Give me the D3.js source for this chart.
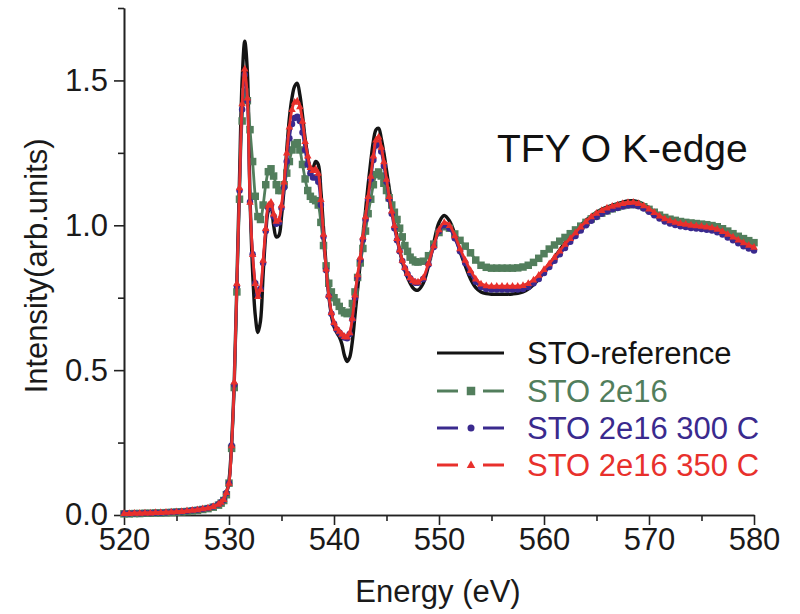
<!DOCTYPE html>
<html lang="en">
<head>
<meta charset="utf-8">
<title>TFY O K-edge</title>
<script src="https://cdn.jsdelivr.net/npm/d3@7/dist/d3.min.js"></script>
<style>
  body { margin: 0; background: #fff; }
  text { font-family: "Liberation Sans", Arial, Helvetica, sans-serif; }
</style>
</head>
<body>
<script>

//**********************************************************************//
// Data: photon energy (eV) and normalised TFY intensity

var energy = [
  520, 520.5, 521, 521.5, 522, 522.5, 523, 523.5,
  524, 524.5, 525, 525.5, 526, 526.5, 527, 527.5,
  528, 528.5, 529,
  529.25, 529.5, 529.75, 530,
  530.25, 530.5, 530.75, 531,
  531.25, 531.5, 531.75, 532,
  532.25, 532.5, 532.75, 533,
  533.25, 533.5, 533.75, 534,
  534.25, 534.5, 534.75, 535,
  535.25, 535.5, 535.75, 536,
  536.25, 536.5, 536.75, 537,
  537.25, 537.5, 537.75, 538,
  538.25, 538.5, 538.75, 539,
  539.25, 539.5, 539.75, 540,
  540.25, 540.5, 540.75, 541,
  541.25, 541.5, 541.75, 542,
  542.25, 542.5, 542.75, 543,
  543.25, 543.5, 543.75, 544,
  544.25, 544.5, 544.75, 545,
  545.25, 545.5, 545.75, 546,
  546.25, 546.5, 546.75, 547,
  547.25, 547.5, 547.75, 548,
  548.5, 549, 549.5, 550, 550.5, 551, 551.5, 552,
  552.5, 553, 553.5, 554, 554.5, 555, 555.5, 556,
  556.5, 557, 557.5, 558, 558.5, 559, 559.5, 560,
  560.5, 561, 561.5, 562, 562.5, 563, 563.5, 564,
  564.5, 565, 565.5, 566, 566.5, 567, 567.5, 568,
  568.5, 569, 569.5, 570, 570.5, 571, 571.5, 572,
  572.5, 573, 573.5, 574, 574.5, 575, 575.5, 576,
  576.5, 577, 577.5, 578, 578.5, 579, 579.5, 580
];

var stoReference = [
  0.005, 0.005, 0.006, 0.006, 0.007, 0.007, 0.008, 0.008,
  0.009, 0.010, 0.011, 0.012, 0.013, 0.015, 0.017, 0.020,
  0.023, 0.028, 0.036,
  0.043, 0.052, 0.075, 0.12,
  0.25, 0.46, 0.80, 1.16,
  1.50, 1.635, 1.53, 1.10,
  0.84, 0.69, 0.63, 0.67,
  0.83, 0.97, 1.05, 1.06,
  1.00, 0.96, 0.965, 1.03,
  1.13, 1.26, 1.37, 1.44,
  1.48, 1.49, 1.45, 1.38,
  1.30, 1.24, 1.20, 1.20,
  1.22, 1.21, 1.12, 0.99,
  0.86, 0.76, 0.69, 0.65,
  0.63, 0.615, 0.59, 0.55,
  0.53, 0.545, 0.60, 0.69,
  0.78, 0.87, 0.96, 1.05,
  1.14, 1.22, 1.29, 1.33,
  1.335, 1.30, 1.25, 1.19,
  1.13, 1.07, 1.01, 0.96,
  0.915, 0.875, 0.845, 0.82,
  0.80, 0.785, 0.777, 0.776,
  0.80, 0.86, 0.94, 1.01, 1.034, 1.015, 0.97, 0.91,
  0.86, 0.815, 0.785, 0.77, 0.764, 0.762, 0.762, 0.762,
  0.762, 0.763, 0.765, 0.77, 0.78, 0.795, 0.815, 0.84,
  0.865, 0.89, 0.915, 0.94, 0.96, 0.98, 1.0, 1.018,
  1.032, 1.045, 1.055, 1.063, 1.069, 1.075, 1.08, 1.084,
  1.085, 1.081, 1.072, 1.06, 1.047, 1.035, 1.024, 1.016,
  1.01, 1.006, 1.003, 1.0, 0.998, 0.996, 0.994, 0.99,
  0.984, 0.975, 0.965, 0.955, 0.945, 0.936, 0.928, 0.92
];

var sto2e16 = [
  0.004, 0.004, 0.005, 0.005, 0.006, 0.006, 0.007, 0.007,
  0.008, 0.009, 0.010, 0.011, 0.012, 0.014, 0.016, 0.019,
  0.022, 0.027, 0.034,
  0.041, 0.050, 0.070, 0.11,
  0.23, 0.44, 0.77, 1.09,
  1.36, 1.46, 1.43, 1.33,
  1.22, 1.10, 1.03, 1.02,
  1.07, 1.14, 1.185, 1.195,
  1.17, 1.14, 1.12, 1.12,
  1.14, 1.18, 1.22, 1.26,
  1.28, 1.285, 1.26, 1.21,
  1.16, 1.12, 1.10, 1.09,
  1.085, 1.07, 1.01, 0.93,
  0.86, 0.80, 0.77, 0.75,
  0.735, 0.72, 0.705, 0.698,
  0.695, 0.70, 0.73, 0.77,
  0.82, 0.87, 0.92, 0.98,
  1.04, 1.09, 1.14, 1.175,
  1.184, 1.17, 1.145, 1.12,
  1.095, 1.07, 1.045, 1.02,
  0.99, 0.96, 0.93, 0.91,
  0.89, 0.88, 0.874, 0.873,
  0.876, 0.895, 0.935, 0.975, 0.995, 0.99, 0.97, 0.948,
  0.928, 0.905, 0.88, 0.862, 0.855, 0.852, 0.852, 0.852,
  0.852, 0.852, 0.853, 0.856, 0.862, 0.872, 0.886, 0.902,
  0.918, 0.932, 0.945, 0.958, 0.971, 0.984, 0.997, 1.01,
  1.022, 1.033, 1.042, 1.05, 1.057, 1.063, 1.068, 1.071,
  1.072, 1.07, 1.064, 1.055, 1.045, 1.035, 1.027, 1.021,
  1.017, 1.013, 1.01, 1.008, 1.006, 1.004, 1.002, 0.999,
  0.995, 0.988, 0.98, 0.971, 0.962, 0.954, 0.947, 0.94
];

var sto2e16_300C = [
  0.005, 0.005, 0.006, 0.006, 0.007, 0.007, 0.008, 0.008,
  0.009, 0.010, 0.011, 0.012, 0.014, 0.016, 0.018, 0.021,
  0.024, 0.029, 0.037,
  0.044, 0.053, 0.076, 0.11,
  0.24, 0.45, 0.79, 1.12,
  1.40, 1.52, 1.43, 1.08,
  0.90, 0.80, 0.76, 0.78,
  0.87, 0.98, 1.06, 1.07,
  1.03, 1.005, 1.01, 1.06,
  1.13, 1.22, 1.30, 1.35,
  1.37, 1.375, 1.36, 1.32,
  1.26, 1.21, 1.18, 1.165,
  1.165, 1.15, 1.07, 0.96,
  0.845, 0.755, 0.695, 0.66,
  0.64, 0.63, 0.62, 0.613,
  0.61, 0.625, 0.675, 0.75,
  0.82, 0.88, 0.95, 1.02,
  1.09, 1.16, 1.225, 1.275,
  1.285, 1.255, 1.205, 1.15,
  1.09, 1.04, 0.99, 0.948,
  0.91, 0.877, 0.852, 0.832,
  0.817, 0.807, 0.802, 0.802,
  0.815, 0.865, 0.925, 0.98, 1.0, 0.99, 0.955, 0.91,
  0.87, 0.835, 0.805, 0.787, 0.78, 0.778, 0.778, 0.778,
  0.778, 0.778, 0.778, 0.78, 0.787, 0.80, 0.815, 0.835,
  0.856, 0.878, 0.90, 0.922, 0.943, 0.963, 0.982, 1.0,
  1.016, 1.029, 1.04, 1.048, 1.055, 1.06, 1.065, 1.068,
  1.069, 1.066, 1.058, 1.047, 1.035, 1.023, 1.013, 1.006,
  1.001, 0.997, 0.994, 0.991, 0.989, 0.987, 0.985, 0.982,
  0.976, 0.968, 0.958, 0.948, 0.938, 0.928, 0.92, 0.913
];

var sto2e16_350C = [
  0.006, 0.006, 0.007, 0.007, 0.008, 0.008, 0.009, 0.009,
  0.010, 0.011, 0.012, 0.013, 0.015, 0.017, 0.019, 0.022,
  0.025, 0.030, 0.038,
  0.045, 0.054, 0.078, 0.11,
  0.24, 0.46, 0.80, 1.13,
  1.42, 1.54, 1.44, 1.08,
  0.90, 0.80, 0.755, 0.78,
  0.88, 0.99, 1.07, 1.08,
  1.04, 1.015, 1.02, 1.07,
  1.15, 1.25, 1.34, 1.40,
  1.425, 1.43, 1.41, 1.36,
  1.29, 1.24, 1.20, 1.19,
  1.195, 1.18, 1.09, 0.97,
  0.85, 0.76, 0.70, 0.665,
  0.645, 0.635, 0.625, 0.617,
  0.615, 0.63, 0.68, 0.76,
  0.83, 0.89, 0.96, 1.03,
  1.10, 1.17, 1.24, 1.295,
  1.305, 1.27, 1.22, 1.16,
  1.10, 1.05, 1.00, 0.955,
  0.915, 0.88, 0.855, 0.835,
  0.82, 0.81, 0.805, 0.805,
  0.82, 0.87, 0.93, 0.985, 1.01, 1.0, 0.965, 0.92,
  0.88, 0.845, 0.815, 0.798, 0.792, 0.79, 0.79, 0.79,
  0.79, 0.79, 0.79, 0.793, 0.80, 0.812, 0.828, 0.848,
  0.868, 0.89, 0.912, 0.935, 0.955, 0.975, 0.995, 1.013,
  1.03, 1.042, 1.052, 1.06, 1.066, 1.071, 1.076, 1.079,
  1.08, 1.076, 1.068, 1.057, 1.045, 1.033, 1.023, 1.016,
  1.011, 1.007, 1.004, 1.001, 0.999, 0.997, 0.995, 0.992,
  0.987, 0.979, 0.97, 0.96, 0.95, 0.94, 0.932, 0.925
];

var seriesNames = ["STO-reference", "STO 2e16", "STO 2e16 300 C", "STO 2e16 350 C"];
var seriesColors = ["#141414", "#527e5c", "#3a2a8e", "#e8302c"];
var seriesMarkers = [null, "square", "circle", "triangle"];

var xMajorTicks = [520, 530, 540, 550, 560, 570, 580];
var xMinorTicks = [525, 535, 545, 555, 565, 575];
var yMajorTicks = [0.0, 0.5, 1.0, 1.5];
var yMinorTicks = [0.25, 0.75, 1.25, 1.75];

//**********************************************************************//
// Canvas

var width = 800,
    height = 614;

var margin = {left: 124, right: 46, top: 8, bottom: 99};
var fontSize = 31;

var svg = d3.select("body")
            .append("svg")
            .attr("width", width)
            .attr("height", height);

var x = d3.scaleLinear()
          .domain([520, 580])
          .range([margin.left, width - margin.right]);

var y = d3.scaleLinear()
          .domain([0, 1.75])
          .range([height - margin.bottom, margin.top]);

//**********************************************************************//
// Axes

function styleAxis(g) {
    g.select(".domain").attr("stroke", "#222").attr("stroke-width", 1.6);
    g.selectAll(".tick line").attr("stroke", "#222").attr("stroke-width", 1.6);
    g.selectAll(".tick text")
        .attr("fill", "#1a1a1a")
        .style("font-size", fontSize + "px")
        .style("font-family", "'Liberation Sans', Arial, sans-serif");
}

svg.append("g")
    .attr("transform", "translate(0," + y(0) + ")")
    .call(d3.axisBottom(x).tickValues(xMinorTicks).tickSize(6).tickSizeOuter(0).tickFormat(""))
    .call(styleAxis);

svg.append("g")
    .attr("transform", "translate(0," + y(0) + ")")
    .call(d3.axisBottom(x).tickValues(xMajorTicks).tickSize(10).tickSizeOuter(0)
            .tickPadding(3).tickFormat(d3.format("d")))
    .call(styleAxis);

svg.append("g")
    .attr("transform", "translate(" + x(520) + ",0)")
    .call(d3.axisLeft(y).tickValues(yMinorTicks).tickSize(6).tickSizeOuter(0).tickFormat(""))
    .call(styleAxis);

svg.append("g")
    .attr("transform", "translate(" + x(520) + ",0)")
    .call(d3.axisLeft(y).tickValues(yMajorTicks).tickSize(10).tickSizeOuter(0)
            .tickPadding(6).tickFormat(d3.format(".1f")))
    .call(styleAxis);

svg.append("text")
    .attr("x", 438)
    .attr("y", 602)
    .attr("text-anchor", "middle")
    .style("font-size", fontSize + "px")
    .attr("fill", "#1a1a1a")
    .text("Energy (eV)");

svg.append("text")
    .attr("transform", "translate(47," + y(0.86) + ") rotate(-90)")
    .attr("text-anchor", "middle")
    .style("font-size", fontSize + "px")
    .attr("fill", "#1a1a1a")
    .text("Intensity(arb.units)");

svg.append("text")
    .attr("x", 497)
    .attr("y", 162)
    .style("font-size", "39px")
    .attr("fill", "#111")
    .text("TFY O K-edge");

//**********************************************************************//
// Curves

var allSeries = [stoReference, sto2e16, sto2e16_300C, sto2e16_350C];

function markerPath(type, size) {
    if (type === "square") return d3.symbol().type(d3.symbolSquare).size(size * size)();
    if (type === "circle") return d3.symbol().type(d3.symbolCircle).size(Math.PI * size * size / 4)();
    var h = size * 0.9, w = size;
    return "M0," + (-h * 0.6) + "L" + (w / 2) + "," + (h * 0.4) + "L" + (-w / 2) + "," + (h * 0.4) + "Z";
}

var line = d3.line()
    .x(function(d) { return x(d[0]); })
    .y(function(d) { return y(d[1]); })
    .curve(d3.curveCatmullRom.alpha(0.5));

allSeries.forEach(function(values, i) {
    var pts = energy.map(function(e, k) { return [e, values[k]]; });
    var g = svg.append("g");

    g.append("path")
        .datum(pts)
        .attr("fill", "none")
        .attr("stroke", seriesColors[i])
        .attr("stroke-width", i === 0 ? 3.4 : 2.8)
        .attr("stroke-linejoin", "round")
        .attr("d", line);

    if (seriesMarkers[i]) {
        var shape = markerPath(seriesMarkers[i], seriesMarkers[i] === "circle" ? 6.5 : 7.5);
        g.selectAll("path.mk")
            .data(pts)
            .enter()
            .append("path")
            .attr("class", "mk")
            .attr("d", shape)
            .attr("fill", seriesColors[i])
            .attr("transform", function(d) { return "translate(" + x(d[0]) + "," + y(d[1]) + ")"; });
    }
});

//**********************************************************************//
// Legend

var legendRows = [364, 402, 439, 476];

seriesNames.forEach(function(name, i) {
    var g = svg.append("g").attr("transform", "translate(0," + legendRows[i] + ")");
    var cy = -11;
    if (seriesMarkers[i]) {
        g.append("line").attr("x1", 437).attr("x2", 458).attr("y1", cy).attr("y2", cy)
            .attr("stroke", seriesColors[i]).attr("stroke-width", 3);
        g.append("line").attr("x1", 483).attr("x2", 504).attr("y1", cy).attr("y2", cy)
            .attr("stroke", seriesColors[i]).attr("stroke-width", 3);
        g.append("path")
            .attr("d", markerPath(seriesMarkers[i], seriesMarkers[i] === "circle" ? 7 : 8.5))
            .attr("fill", seriesColors[i])
            .attr("transform", "translate(471," + cy + ")");
    } else {
        g.append("line").attr("x1", 437).attr("x2", 504).attr("y1", cy).attr("y2", cy)
            .attr("stroke", seriesColors[i]).attr("stroke-width", 3);
    }
    g.append("text")
        .attr("x", 527)
        .attr("y", 0)
        .style("font-size", fontSize + "px")
        .attr("fill", seriesColors[i])
        .text(name);
});

</script>
</body>
</html>
